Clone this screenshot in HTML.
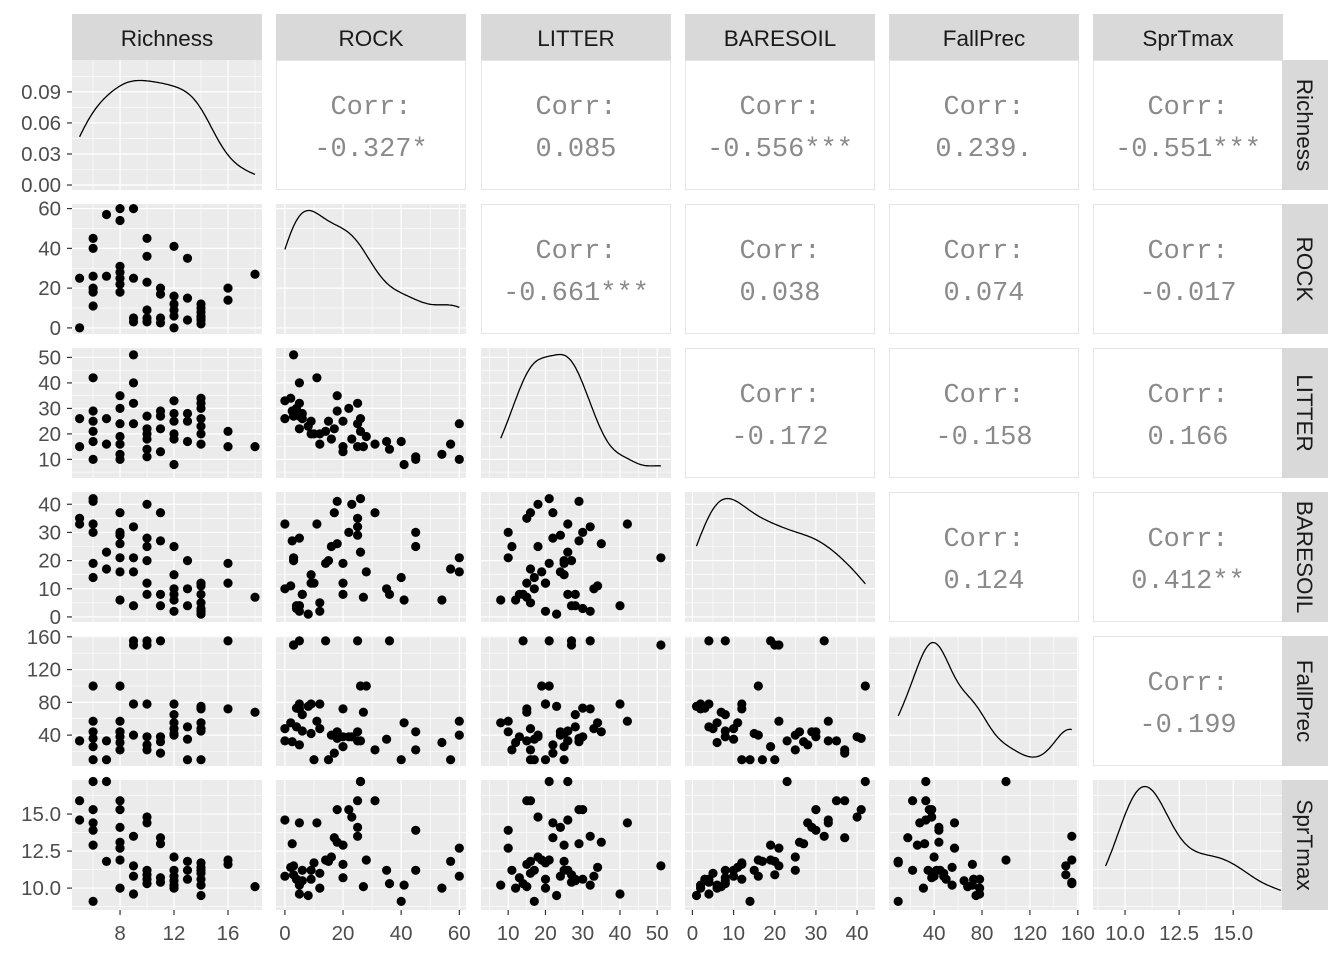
<!DOCTYPE html>
<html><head><meta charset="utf-8"><style>
html,body{margin:0;padding:0;background:#fff;}
svg{display:block;font-family:"Liberation Sans",sans-serif;}
</style></head><body>
<svg id="chart" width="1344" height="960" viewBox="0 0 1344 960"></svg>
<script>
// ---- data ----
const varNames = ["Richness","ROCK","LITTER","BARESOIL","FallPrec","SprTmax"];
const richness = [5,5, 6,6,6,6,6,6, 7,7, 8,8,8,8,8,8,8, 9,9,9,9, 10,10,10,10,10,10, 11,11,11,11, 12,12,12,12,12,12, 13,13,13, 14,14,14,14,14,14,14, 16,16, 18];
const rock = [0,25, 45,40,26,20,18,11, 57,26, 60,54,31,28,25,22,18, 60,25,5,3, 45,36,23,9,5,3, 20,17,5,2.5, 41,16,12,9,6,0, 35,15,4, 12,10,8,6,4,2,5, 20,14, 27];
const litter = [26,15, 10,17,21,25,29,42, 16,26, 10,12,16,19,24,30,35, 24,32,40,51, 11,14,18,20,22,27, 13,22,27,29, 8,18,20,25,28,33, 17,25,28, 16,20,23,26,30,34,32, 15,21, 15];
const baresoil = [33,35, 30,14,42,19,41,33, 17,23, 21,6,37,16,29,30,26, 16,32,4,21, 25,8,40,12,28,20, 8,37,4,27, 6,25,2,15,8,10, 10,20,4, 5,12,1,8,3,11,2, 12,19, 7];
const fallPrec = [33,33, 44,10,100,26,36,57, 10,33, 57,31,22,100,44,38,44, 40,155,78,150, 22,155,38,78,28,150, 38,18,155,32, 55,40,78,42,65,48, 35,10,50, 48,10,75,45,73,55,72, 72,155, 68];
const sprTmax = [14.6,15.9, 13.9,9.1,17.2,12.9,15.3,14.4, 11.8,17.2, 12.7,10.0,15.9,11.9,14.1,15.3,13.1, 10.8,13.5,9.6,11.5, 11.2,10.3,14.8,10.6,14.4,10.9, 10.7,13.4,10.4,13.0, 10.2,12.1,10.0,11.2,10.5,10.8, 11.2,11.8,10.6, 11.0,11.7,9.5,11.2,10.6,11.4,10.2, 11.6,11.9, 10.1];
const corrLabels = [
  [null,"-0.327*","0.085","-0.556***","0.239.","-0.551***"],
  [null,null,"-0.661***","0.038","0.074","-0.017"],
  [null,null,null,"-0.172","-0.158","0.166"],
  [null,null,null,null,"0.124","0.412**"],
  [null,null,null,null,null,"-0.199"]
];
const xTicks = [[8,12,16],[0,20,40,60],[10,20,30,40,50],[0,10,20,30,40],[40,80,120,160],[10,12.5,15]];
const xTickLabels = [["8","12","16"],["0","20","40","60"],["10","20","30","40","50"],["0","10","20","30","40"],["40","80","120","160"],["10.0","12.5","15.0"]];
const yTicks = [[0,0.03,0.06,0.09],[0,20,40,60],[10,20,30,40,50],[0,10,20,30,40],[40,80,120,160],[10,12.5,15]];
const yTickLabels = [["0.00","0.03","0.06","0.09"],["0","20","40","60"],["10","20","30","40","50"],["0","10","20","30","40"],["40","80","120","160"],["10.0","12.5","15.0"]];
const domains = [[4.44,18.52],[-3.06,62.3],[2.7,53.7],[-1.8,44.35],[2.3,161],[8.52,17.3]];
const densDomain = [-0.0048,0.1208];
// ---- layout ----
const data = [richness,rock,litter,baresoil,fallPrec,sprTmax];
const colL = [72,276,481,685,889,1093], rowT = [60,204,348,492,636,780];
const PW = 190, PH = 130;
const svg = document.getElementById('chart');
const NS = "http://www.w3.org/2000/svg";
function mk(tag, attrs, parent){const e=document.createElementNS(NS,tag);for(const k in attrs)e.setAttribute(k,attrs[k]);(parent||svg).appendChild(e);return e;}
function sx(c,v){const d=domains[c];return colL[c]+(v-d[0])/(d[1]-d[0])*PW;}
function sy(r,v){const d=domains[r];return rowT[r]+PH-(v-d[0])/(d[1]-d[0])*PH;}
function syDens(v){return rowT[0]+PH-(v-densDomain[0])/(densDomain[1]-densDomain[0])*PH;}
function minors(t){const out=[];const s=t.length>1?t[1]-t[0]:1;for(let i=-1;i<t.length;i++){out.push((i<0?t[0]-s/2:t[i]+s/2));}return out;}
function kde(arr){
  const n=arr.length, m=arr.reduce((a,b)=>a+b,0)/n;
  const sd=Math.sqrt(arr.reduce((a,b)=>a+(b-m)*(b-m),0)/(n-1));
  const s=[...arr].sort((a,b)=>a-b);
  const q=p=>{const h=(n-1)*p,l=Math.floor(h);return s[l]+(h-l)*((s[l+1]??s[l])-s[l]);};
  const iqr=q(0.75)-q(0.25);
  const bw=0.9*Math.min(sd,iqr/1.34)*Math.pow(n,-0.2);
  const pts=[];const lo=s[0],hi=s[n-1];
  for(let i=0;i<=120;i++){const x=lo+(hi-lo)*i/120;let d=0;for(const v of arr){const z=(x-v)/bw;d+=Math.exp(-0.5*z*z);}pts.push([x,d/(n*bw*Math.sqrt(2*Math.PI))]);}
  return pts;
}
function gridPanel(r,c,diag){
  const g=mk('g',{});
  
  
  const x0=colL[c],y0=rowT[r];
  mk('rect',{x:x0,y:y0,width:PW,height:PH,fill:'#EBEBEB'},g);
  const clip=(v,a,b)=>v>=a&&v<=b;
  for(const t of minors(xTicks[c])){const x=sx(c,t);if(clip(x,x0,x0+PW))mk('line',{x1:x,x2:x,y1:y0,y2:y0+PH,stroke:'#fff','stroke-width':0.6},g);}
  const yt = diag&&r===0 ? yTicks[0] : yTicks[r];
  const yf = (diag&&r===0) ? syDens : (v=>sy(r,v));
  for(const t of minors(yt)){const y=yf(t);if(clip(y,y0,y0+PH))mk('line',{x1:x0,x2:x0+PW,y1:y,y2:y,stroke:'#fff','stroke-width':0.6},g);}
  for(const t of xTicks[c]){const x=sx(c,t);mk('line',{x1:x,x2:x,y1:y0,y2:y0+PH,stroke:'#fff','stroke-width':1.2},g);}
  for(const t of yt){const y=yf(t);if(clip(y,y0,y0+PH))mk('line',{x1:x0,x2:x0+PW,y1:y,y2:y,stroke:'#fff','stroke-width':1.2},g);}
  return g;
}
for(let r=0;r<6;r++){
  for(let c=0;c<6;c++){
    const x0=colL[c],y0=rowT[r];
    if(c>r){
      const g=mk('g',{});
      
      
      mk('rect',{x:x0+0.5,y:y0+0.5,width:PW-1,height:PH-1,fill:'#fff',stroke:'#E5E5E5','stroke-width':1},g);
      const t1=mk('text',{x:x0+PW/2,y:y0+54,'text-anchor':'middle','font-family':'"Liberation Mono",monospace','font-size':27,fill:'#8A8A8A'},g);t1.textContent='Corr:';
      const t2=mk('text',{x:x0+PW/2,y:y0+96,'text-anchor':'middle','font-family':'"Liberation Mono",monospace','font-size':27,fill:'#8A8A8A'},g);t2.textContent=corrLabels[r][c];
    } else if(c===r){
      const g=gridPanel(r,c,true);
      const pts=kde(data[c]);
      const dmax=Math.max(...pts.map(p=>p[1]));
      let d='';
      pts.forEach((p,i)=>{const x=sx(c,p[0]);const y= r===0? syDens(p[1]) : (y0+PH-5.5-(p[1]/dmax)*(PH-12));d+=(i?'L':'M')+x.toFixed(1)+','+y.toFixed(1);});
      const path=mk('path',{d:d,fill:'none',stroke:'#000','stroke-width':1.3},g);
      
      
    } else {
      const g=gridPanel(r,c,false);
      const xs=data[c], ys=data[r];
      for(let i=0;i<xs.length;i++){
        const pt=mk('circle',{cx:sx(c,xs[i]).toFixed(1),cy:sy(r,ys[i]).toFixed(1),r:4.6,fill:'#000'},g);
        
        
      }
    }
  }
}
// top strips
for(let c=0;c<6;c++){
  const g=mk('g',{});
  
  
  mk('rect',{x:colL[c],y:14,width:PW,height:46,fill:'#D9D9D9'},g);
  const t=mk('text',{x:colL[c]+PW/2,y:46,'text-anchor':'middle','font-size':22.5,fill:'#1A1A1A'},g);t.textContent=varNames[c];
}
// right strips
for(let r=0;r<6;r++){
  const g=mk('g',{});
  
  
  mk('rect',{x:1282,y:rowT[r],width:46,height:PH,fill:'#D9D9D9'},g);
  const cx=1297,cy=rowT[r]+PH/2;
  const t=mk('text',{x:cx,y:cy,'text-anchor':'middle','font-size':22.5,fill:'#1A1A1A',transform:'rotate(90 '+cx+' '+cy+')'},g);t.textContent=varNames[r];
}
// bottom axes
for(let c=0;c<6;c++){
  const g=mk('g',{});
  
  
  xTicks[c].forEach((t,i)=>{
    const x=sx(c,t);
    mk('line',{x1:x,x2:x,y1:910,y2:915,stroke:'#333','stroke-width':1.2},g);
    const tx=mk('text',{x:x,y:940,'text-anchor':'middle','font-size':20.5,fill:'#4D4D4D'},g);tx.textContent=xTickLabels[c][i];
  });
}
// left axes
for(let r=0;r<6;r++){
  const g=mk('g',{});
  
  
  yTicks[r].forEach((t,i)=>{
    const y= r===0 ? syDens(t) : sy(r,t);
    mk('line',{x1:67,x2:72,y1:y,y2:y,stroke:'#333','stroke-width':1.2},g);
    const tx=mk('text',{x:61,y:y+7,'text-anchor':'end','font-size':20.5,fill:'#4D4D4D'},g);tx.textContent=yTickLabels[r][i];
  });
}
</script>
</body></html>
